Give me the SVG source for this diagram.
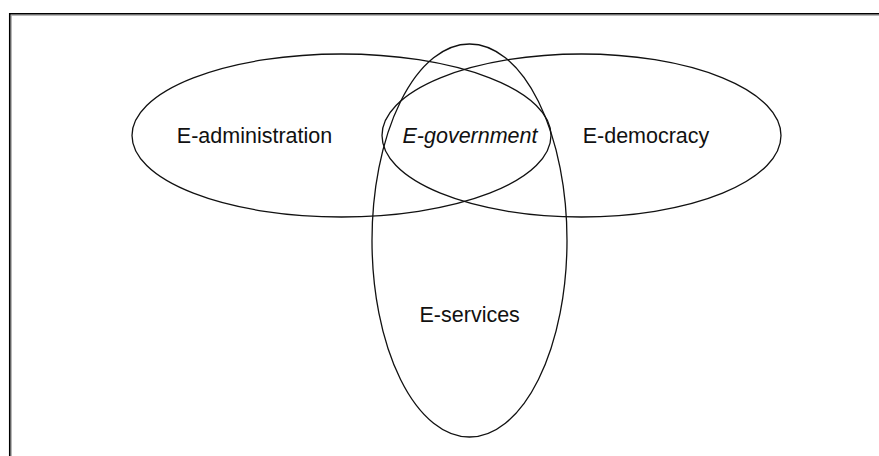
<svg xmlns="http://www.w3.org/2000/svg" width="879" height="456" viewBox="0 0 879 456">
<style>
.set{fill:none;stroke:#111;stroke-width:1.3}
.lbl{font-family:"Liberation Sans",Arial,sans-serif;font-size:21.5px;fill:#111;text-anchor:middle}
</style>
<rect width="879" height="456" fill="#fff"/>
<g id="frame">
<path d="M11.2 456 V15.2 H879" fill="none" stroke="#999" stroke-width="1"/>
<path d="M9.75 456 V13.75 H879" fill="none" stroke="#000" stroke-width="1.6"/>
</g>
<g id="e-administration">
<ellipse class="set" cx="341.5" cy="135.5" rx="209.5" ry="81.5"/>
<text class="lbl" x="254.5" y="143">E-administration</text>
</g>
<g id="e-democracy">
<ellipse class="set" cx="581.5" cy="135.5" rx="199.5" ry="81.5"/>
<text class="lbl" x="646" y="143">E-democracy</text>
</g>
<g id="e-services">
<ellipse class="set" cx="469.5" cy="240.5" rx="97.5" ry="196.5"/>
<text class="lbl" x="469.7" y="322">E-services</text>
</g>
<g id="e-government">
<text class="lbl" x="470" y="143" font-style="italic">E-government</text>
</g>
<g id="connectors"/>
</svg>
